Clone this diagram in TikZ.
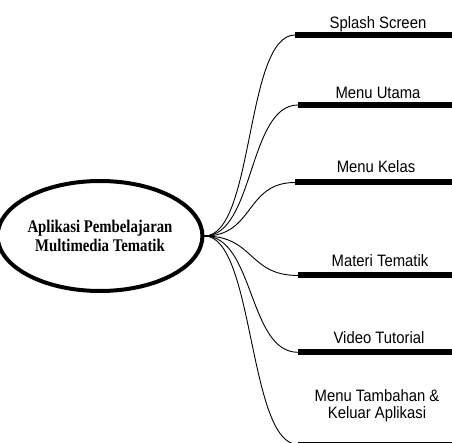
\documentclass[tikz,border=0pt]{standalone}
\usepackage{fontspec}
\usetikzlibrary{shapes.geometric}
\newfontfamily\labelfont{Liberation Sans}[FakeStretch=0.9]
\newfontfamily\rootfont{Liberation Serif}[FakeStretch=0.83]
\begin{document}
\begin{tikzpicture}[x=1pt,y=-1pt,
  rootnode/.style={ellipse, draw, line width=4pt, minimum width=192pt,
    minimum height=110pt, inner sep=0pt, align=center,
    font=\rootfont\bfseries\fontsize{17.8}{19.5}\selectfont},
  barnode/.style={rectangle, fill=black, draw=none, anchor=west,
    minimum width=170pt, minimum height=6pt, inner sep=0pt},
  lbl/.style={anchor=base, inner sep=0pt, align=center,
    font=\labelfont\fontsize{16.5}{17}\selectfont},
  branch/.style={line width=0.9pt}]
\useasboundingbox (0,0) rectangle (452,443);
\clip (0,0) rectangle (452,443);

% central topic
\node[rootnode] (root) at (100,236) {Aplikasi Pembelajaran\\Multimedia Tematik};

% branch bars
\node[barnode] (b1) at (295,35)    {};
\node[barnode] (b2) at (298,105)   {};
\node[barnode] (b3) at (295,182.5) {};
\node[barnode] (b4) at (298,275.5) {};
\node[barnode] (b5) at (298,352.3) {};
\node[barnode] (b6) at (298,444.5) {};

% branch labels
\node[lbl] (l1) at (378,28.5)  {Splash Screen};
\node[lbl] (l2) at (378,98.5)  {Menu Utama};
\node[lbl] (l3) at (376,173)   {Menu Kelas};
\node[lbl] (l4) at (380,267)   {Materi Tematik};
\node[lbl] (l5) at (379,343.5) {Video Tutorial};
\node[lbl] (l6) at (377,418)   {Menu Tambahan \&\\Keluar Aplikasi};

% connectors
\foreach \b in {b1,b2,b3,b4,b5,b6}
  \draw[branch] (root.east) .. controls +(50,0) and +(-50,0) .. (\b.west);
\end{tikzpicture}
\end{document}
